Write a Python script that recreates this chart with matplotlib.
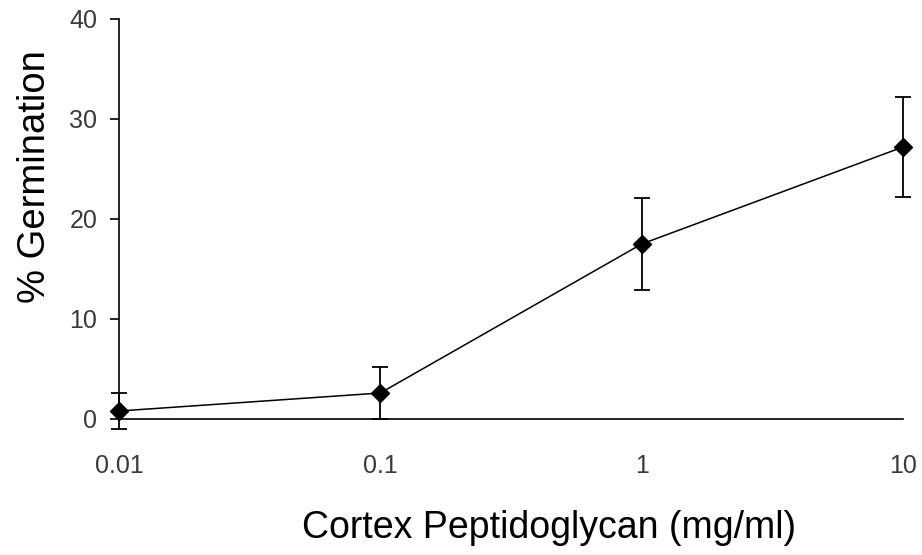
import matplotlib
matplotlib.use("Agg")
import matplotlib.pyplot as plt

conc = [0.01, 0.1, 1, 10]
germination = [0.8, 2.6, 17.5, 27.2]
err = [1.8, 2.6, 4.6, 5.0]
xticks = [0.01, 0.1, 1, 10]
xticklabels = ["0.01", "0.1", "1", "10"]
yticks = [0, 10, 20, 30, 40]

plt.rcParams['font.family'] = ['Liberation Sans', 'DejaVu Sans']

fig = plt.figure(figsize=(9.22, 5.55), dpi=100)
W, H = 922, 555
ax = fig.add_axes([119 / W, 1 - 419 / H, (903 - 119) / W, 400 / H])

ax.errorbar(conc, germination, yerr=err, color='black', lw=1.1,
            marker='D', ms=9.5, mfc='black', mec='black',
            ecolor='black', elinewidth=1.3, capsize=5.5, capthick=1.3,
            clip_on=False, zorder=3)

ax.set_xscale('log')
ax.set_xlim(0.01, 10)
ax.set_ylim(0, 40)
ax.minorticks_off()
ax.set_xticks(xticks)
ax.set_xticklabels(xticklabels)
ax.set_yticks(yticks)

for s in ['top', 'right']:
    ax.spines[s].set_visible(False)
ax.spines['left'].set_linewidth(1.2)
ax.spines['bottom'].set_linewidth(1.2)

ax.tick_params(axis='x', length=0, pad=25, labelsize=18, labelcolor='#3a3a3a')
ax.tick_params(axis='y', direction='out', length=6.5, width=1.2, pad=9,
               labelsize=18, labelcolor='#3a3a3a')

fig.text(549 / W, 1 - 528 / H, 'Cortex Peptidoglycan (mg/ml)', fontsize=27,
         ha='center', va='center')
fig.text(35 / W, 1 - 177 / H, '% Germination', fontsize=27.5,
         ha='center', va='center', rotation=90)

fig.savefig('out.png', dpi=100)
